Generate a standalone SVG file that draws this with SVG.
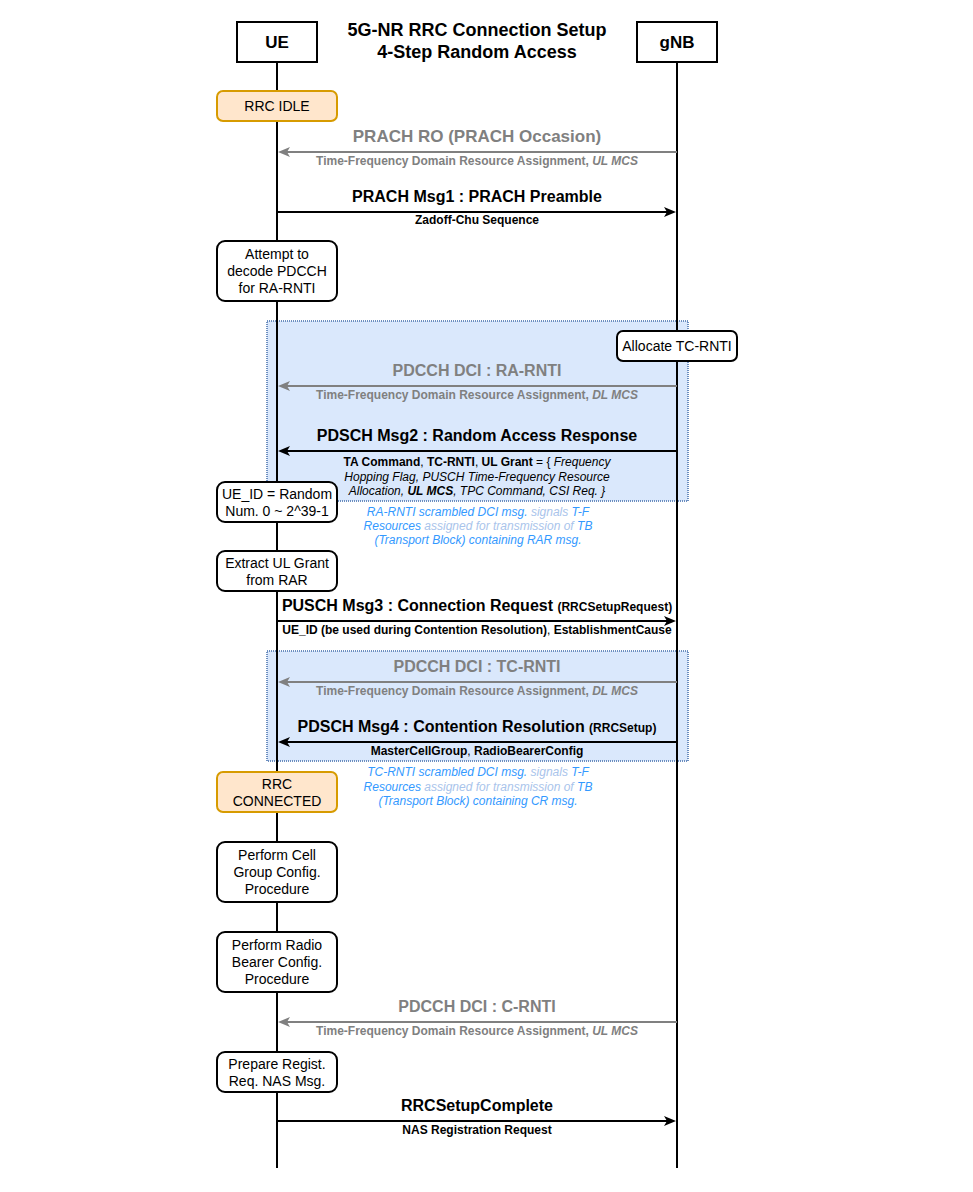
<svg xmlns="http://www.w3.org/2000/svg" width="973" height="1192" viewBox="0 0 973 1192">
<style>
text{font-family:"Liberation Sans",Arial,sans-serif;}
.hdr{fill:#fff;stroke:#000;stroke-width:2;}
.hdrt{font-size:17px;font-weight:bold;text-anchor:middle;fill:#000;}
.title{font-size:18px;font-weight:bold;text-anchor:middle;fill:#000;}
.life{stroke:#000;stroke-width:2;fill:none;}
.box{fill:#fff;stroke:#000;stroke-width:2;}
.state{fill:#ffe6cc;stroke:#d79b00;stroke-width:2;}
.nt{font-size:14px;text-anchor:middle;fill:#000;}
.grp{fill:#dae8fc;stroke:#6c8ebf;stroke-width:2;stroke-dasharray:1 1;}
.blk{stroke:#000;stroke-width:2;fill:none;marker-end:url(#ab);}
.gry{stroke:#808080;stroke-width:2;fill:none;marker-end:url(#ag);}
.lb{font-size:16px;font-weight:bold;text-anchor:middle;fill:#000;}
.lg{font-size:16px;font-weight:bold;text-anchor:middle;fill:#808080;}
.sb{font-size:12px;font-weight:bold;text-anchor:middle;fill:#000;}
.sg{font-size:12px;font-weight:bold;text-anchor:middle;fill:#808080;}
.sm{font-size:12px;text-anchor:middle;fill:#000;}
.note{font-size:12px;font-style:italic;text-anchor:middle;fill:#3399ff;}
.lt{fill:#a9c4eb;}
.it{font-style:italic;}
.b{font-weight:bold;}
.n{font-weight:normal;}
.small{font-size:12px;}
</style>
<defs>
<marker id="ab" viewBox="0 0 12 10" refX="3" refY="5" markerWidth="12" markerHeight="10" markerUnits="userSpaceOnUse" orient="auto">
<path d="M0,0 L12,5 L0,10 L3,5 Z" fill="#000"/>
</marker>
<marker id="ag" viewBox="0 0 12 10" refX="3" refY="5" markerWidth="12" markerHeight="10" markerUnits="userSpaceOnUse" orient="auto">
<path d="M0,0 L12,5 L0,10 L3,5 Z" fill="#808080"/>
</marker>
</defs>
<rect width="973" height="1192" fill="#fff"/>

<g id="group-rar"><rect class="grp" x="267" y="321" width="421" height="180"/></g>
<g id="group-cr"><rect class="grp" x="267" y="651" width="421" height="110"/></g>

<g id="lifelines">
<line class="life" x1="277" y1="62" x2="277" y2="1168"/>
<line class="life" x1="677" y1="62" x2="677" y2="1168"/>
</g>

<g id="title">
<text class="title" x="477" y="36">5G-NR RRC Connection Setup</text>
<text class="title" x="477" y="58">4-Step Random Access</text>
</g>

<g id="ue"><rect class="hdr" x="237" y="22" width="80" height="40"/><text class="hdrt" x="277" y="48">UE</text></g>
<g id="gnb"><rect class="hdr" x="637" y="22" width="80" height="40"/><text class="hdrt" x="677" y="48">gNB</text></g>

<g id="rrc-idle"><rect class="state" x="217" y="91" width="120" height="30" rx="6"/><text class="nt" x="277" y="111">RRC IDLE</text></g>
<g id="attempt"><rect class="box" x="217" y="241" width="120" height="60" rx="8"/>
<text class="nt" x="277" y="259">Attempt to</text><text class="nt" x="277" y="276">decode PDCCH</text><text class="nt" x="277" y="293">for RA-RNTI</text></g>
<g id="allocate"><rect class="box" x="617" y="331" width="120" height="30" rx="6"/><text class="nt" x="677" y="351">Allocate TC-RNTI</text></g>
<g id="ueid"><rect class="box" x="217" y="482" width="120" height="40" rx="8"/>
<text class="nt" x="277" y="498.5">UE_ID = Random</text><text class="nt" x="277" y="515.5">Num. 0 ~ 2^39-1</text></g>
<g id="extract"><rect class="box" x="217" y="551" width="120" height="40" rx="8"/>
<text class="nt" x="277" y="567.5">Extract UL Grant</text><text class="nt" x="277" y="584.5">from RAR</text></g>
<g id="rrc-connected"><rect class="state" x="217" y="772" width="120" height="40" rx="6"/>
<text class="nt" x="277" y="788.5">RRC</text><text class="nt" x="277" y="805.5">CONNECTED</text></g>
<g id="cellgroup"><rect class="box" x="217" y="842" width="120" height="60" rx="8"/>
<text class="nt" x="277" y="860">Perform Cell</text><text class="nt" x="277" y="877">Group Config.</text><text class="nt" x="277" y="894">Procedure</text></g>
<g id="radiobearer"><rect class="box" x="217" y="932" width="120" height="60" rx="8"/>
<text class="nt" x="277" y="950">Perform Radio</text><text class="nt" x="277" y="967">Bearer Config.</text><text class="nt" x="277" y="984">Procedure</text></g>
<g id="prepare"><rect class="box" x="217" y="1052" width="120" height="40" rx="8"/>
<text class="nt" x="277" y="1068.5">Prepare Regist.</text><text class="nt" x="277" y="1085.5">Req. NAS Msg.</text></g>

<g id="connectors">
<line class="gry" x1="677" y1="152" x2="287" y2="152"/>
<line class="blk" x1="277" y1="212" x2="667" y2="212"/>
<line class="gry" x1="677" y1="386" x2="287" y2="386"/>
<line class="blk" x1="677" y1="451" x2="287" y2="451"/>
<line class="blk" x1="277" y1="621" x2="667" y2="621"/>
<line class="gry" x1="677" y1="682" x2="287" y2="682"/>
<line class="blk" x1="677" y1="742" x2="287" y2="742"/>
<line class="gry" x1="677" y1="1022" x2="287" y2="1022"/>
<line class="blk" x1="277" y1="1121" x2="667" y2="1121"/>
</g>

<g id="labels">
<text class="lg" x="477" y="142" style="font-size:17px">PRACH RO (PRACH Occasion)</text>
<text class="sg" x="477" y="165">Time-Frequency Domain Resource Assignment, <tspan class="it">UL MCS</tspan></text>
<text class="lb" x="477" y="202">PRACH Msg1 : PRACH Preamble</text>
<text class="sb" x="477" y="224">Zadoff-Chu Sequence</text>

<text class="lg" x="477" y="376">PDCCH DCI : RA-RNTI</text>
<text class="sg" x="477" y="399">Time-Frequency Domain Resource Assignment, <tspan class="it">DL MCS</tspan></text>
<text class="lb" x="477" y="441">PDSCH Msg2 : Random Access Response</text>
<text class="sm" x="477" y="466"><tspan class="b">TA Command</tspan>, <tspan class="b">TC-RNTI</tspan>, <tspan class="b">UL Grant</tspan> = { <tspan class="it">Frequency</tspan></text>
<text class="sm it" x="477" y="480.5">Hopping Flag, PUSCH Time-Frequency Resource</text>
<text class="sm it" x="477" y="495">Allocation, <tspan class="b">UL MCS</tspan>, TPC Command, CSI Req. }</text>

<text class="note" x="478" y="516">RA-RNTI scrambled DCI msg.<tspan class="lt"> signals </tspan>T-F</text>
<text class="note" x="478" y="530">Resources<tspan class="lt"> assigned for transmission of </tspan>TB</text>
<text class="note" x="478" y="544">(Transport Block) containing RAR msg.</text>

<text class="lb" x="477" y="611">PUSCH Msg3 : Connection Request <tspan class="small">(RRCSetupRequest)</tspan></text>
<text class="sb" x="477" y="634">UE_ID (be used during Contention Resolution)<tspan class="n">,</tspan> EstablishmentCause</text>

<text class="lg" x="477" y="672">PDCCH DCI : TC-RNTI</text>
<text class="sg" x="477" y="695">Time-Frequency Domain Resource Assignment, <tspan class="it">DL MCS</tspan></text>
<text class="lb" x="477" y="732">PDSCH Msg4 : Contention Resolution <tspan class="small">(RRCSetup)</tspan></text>
<text class="sb" x="477" y="755">MasterCellGroup<tspan class="n">,</tspan> RadioBearerConfig</text>

<text class="note" x="478" y="776">TC-RNTI scrambled DCI msg.<tspan class="lt"> signals </tspan>T-F</text>
<text class="note" x="478" y="791">Resources<tspan class="lt"> assigned for transmission of </tspan>TB</text>
<text class="note" x="478" y="805">(Transport Block) containing CR msg.</text>

<text class="lg" x="477" y="1012">PDCCH DCI : C-RNTI</text>
<text class="sg" x="477" y="1035">Time-Frequency Domain Resource Assignment, <tspan class="it">UL MCS</tspan></text>
<text class="lb" x="477" y="1111">RRCSetupComplete</text>
<text class="sb" x="477" y="1134">NAS Registration Request</text>
</g>
</svg>
